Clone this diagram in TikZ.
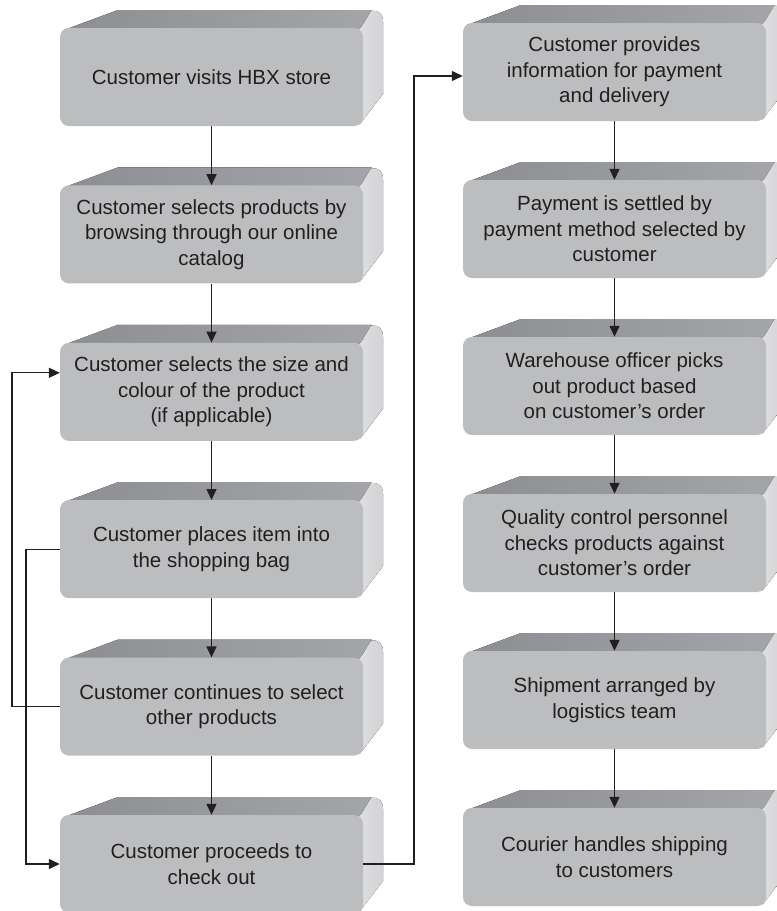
\documentclass[tikz,border=0pt]{standalone}
\usepackage{fontspec}
\setmainfont{Liberation Sans}
\usetikzlibrary{arrows.meta}
\definecolor{frontc}{HTML}{BCBDBF}
\definecolor{topc}{HTML}{8D8E92}
\definecolor{topl}{HTML}{A4A5A8}
\definecolor{sidec}{HTML}{D2D3D5}
\definecolor{sidel}{HTML}{E3E3E4}
\definecolor{inkc}{HTML}{231F20}
\tikzset{
  front/.style={fill=frontc, rounded corners=9pt, minimum width=303pt, minimum height=98pt,
    inner sep=0pt, align=center, text=inkc, font=\fontsize{20.5}{25.5}\selectfont},
  conn/.style={draw=inkc, line width=1.3pt},
  arr/.style={conn, -{Triangle[length=11pt,width=10pt]}},
}
\newcommand\flowbox[4]{%
  \fill[left color=topc, right color=topl] (#2+4,#3+2) -- (#2+58,#3-18) -- (#2+312,#3-18) -- (#2+303,#3+4) -- cycle;
  \fill[left color=sidel, right color=sidec] (#2+290,#3+12) -- (#2+302,#3-2) -- (#2+311,#3-17)
     .. controls (#2+319,#3-18) and (#2+323,#3-14) .. (#2+323,#3-6) -- (#2+323,#3+66) -- (#2+300,#3+96) -- (#2+290,#3+96) -- cycle;
  \node[front] (#1) at (#2+151.5,#3+49) {#4};
}
\begin{document}
\begin{tikzpicture}[x=1pt,y=-1pt]
\useasboundingbox (0,0) rectangle (777,911);
\clip (0,0) rectangle (777,911);
\flowbox{L1}{60}{28}{Customer visits HBX store}
\flowbox{L2}{60}{185.4}{Customer selects products by\\browsing through our online\\catalog}
\flowbox{L3}{60}{342.8}{Customer selects the size and\\colour of the product\\(if applicable)}
\flowbox{L4}{60}{500.2}{Customer places item into\\the shopping bag}
\flowbox{L5}{60}{657.6}{Customer continues to select\\other products}
\flowbox{L6}{60}{815}{Customer proceeds to\\check out}
\flowbox{R1}{463}{23}{Customer provides\\information for payment\\and delivery}
\flowbox{R2}{463}{180}{Payment is settled by\\payment method selected by\\customer}
\flowbox{R3}{463}{337}{Warehouse officer picks\\out product based\\on customer’s order}
\flowbox{R4}{463}{494}{Quality control personnel\\checks products against\\customer’s order}
\flowbox{R5}{463}{651}{Shipment arranged by\\logistics team}
\flowbox{R6}{463}{808}{Courier handles shipping\\to customers}

\draw[arr] (L1.south) -- (L2.north);
\draw[arr] (L2.south) -- (L3.north);
\draw[arr] (L3.south) -- (L4.north);
\draw[arr] (L4.south) -- (L5.north);
\draw[arr] (L5.south) -- (L6.north);
\draw[arr] (R1.south) -- (R2.north);
\draw[arr] (R2.south) -- (R3.north);
\draw[arr] (R3.south) -- (R4.north);
\draw[arr] (R4.south) -- (R5.north);
\draw[arr] (R5.south) -- (R6.north);

\coordinate (xa) at (12,0);
\coordinate (xb) at (26,0);
\coordinate (xc) at (414,0);
\coordinate (L3in) at ([yshift=19pt]L3.west);
\coordinate (R1in) at ([yshift=-4pt]R1.west);
\draw[arr] (L5.west) -- (L5.west -| xa) -- (xa |- L3in) -- (L3in);
\draw[arr] (L4.west) -- (L4.west -| xb) -- (xb |- L6.west) -- (L6.west);
\draw[arr] (L6.east) -- (L6.east -| xc) -- (xc |- R1in) -- (R1in);
\end{tikzpicture}
\end{document}
